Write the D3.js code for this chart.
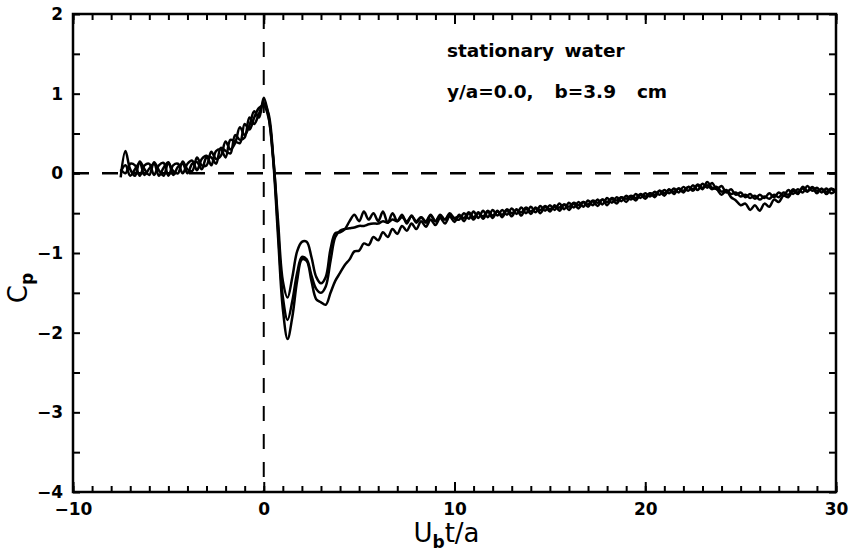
<!DOCTYPE html>
<html>
<head>
<meta charset="utf-8">
<script src="https://cdn.jsdelivr.net/npm/d3@7"></script>
<style>
  body { margin: 0; background: #fff; }
  text { font-family: "DejaVu Sans", "Liberation Sans", sans-serif; fill: #000; }
</style>
</head>
<body>
<div id="chart"></div>
<script>
// sampling of the three runs: t = tStart + i * tStep
var tStart = -7.5, tStep = 0.25;

var run1 = [-0.05, 0.28, 0.05, -0.03, 0.15, 0.05, -0.02, 0.14, 0.04, -0.03, 0.13, 0.03, 0.0, 0.15, 0.05, 0.03,
  0.2, 0.1, 0.1, 0.27, 0.18, 0.22, 0.4, 0.3, 0.38, 0.58, 0.48, 0.6, 0.78, 0.7, 0.95,
  0.72, 0.15, -0.8, -1.7, -2.08, -1.8, -1.35, -1.08, -1.1, -1.35, -1.58, -1.62, -1.65, -1.5, -1.35, -1.25,
  -1.15, -1.08, -0.98, -0.97, -0.88, -0.9, -0.8, -0.84, -0.74, -0.8, -0.7, -0.76, -0.66, -0.72, -0.63, -0.7,
  -0.6, -0.67, -0.58, -0.65, -0.56, -0.63, -0.54, -0.61,
  -0.52, -0.6, -0.5, -0.58, -0.49, -0.57, -0.48, -0.56, -0.47, -0.55, -0.46, -0.54, -0.45, -0.53, -0.44, -0.51, -0.43, -0.5, -0.42, -0.48,
  -0.4, -0.47, -0.39, -0.46, -0.38, -0.44, -0.36, -0.42, -0.35, -0.41, -0.33, -0.4, -0.32, -0.38, -0.3, -0.36, -0.29, -0.34, -0.27, -0.32,
  -0.25, -0.3, -0.22, -0.28, -0.2, -0.26, -0.19, -0.24, -0.17, -0.22, -0.15, -0.2, -0.11, -0.18, -0.2, -0.27, -0.22, -0.3, -0.34, -0.4,
  -0.38, -0.46, -0.4, -0.47, -0.38, -0.42, -0.33, -0.36, -0.28, -0.3, -0.22, -0.26, -0.17, -0.22, -0.18, -0.25, -0.19, -0.26, -0.2, -0.24];

var run2 = [0.02, 0.1, -0.03, 0.05, 0.13, -0.02, 0.06, 0.12, -0.03, 0.07, 0.14, -0.02, 0.08, 0.12, 0.0, 0.12,
  0.14, 0.05, 0.2, 0.2, 0.12, 0.32, 0.28, 0.25, 0.48, 0.42, 0.45, 0.7, 0.62, 0.75, 0.88,
  0.75, 0.2, -0.7, -1.55, -1.84, -1.6, -1.25, -1.05, -1.08, -1.28, -1.45, -1.5, -1.42, -1.1, -0.8, -0.72,
  -0.7, -0.69, -0.68, -0.66, -0.66, -0.64, -0.63, -0.63, -0.6, -0.62, -0.58, -0.6, -0.55, -0.6, -0.54, -0.6,
  -0.55, -0.62, -0.53, -0.6, -0.52, -0.58, -0.5, -0.57,
  -0.58, -0.5, -0.57, -0.48, -0.56, -0.47, -0.55, -0.46, -0.53, -0.46, -0.52, -0.44, -0.51, -0.43, -0.5, -0.42, -0.49, -0.41, -0.47, -0.4,
  -0.46, -0.38, -0.45, -0.37, -0.43, -0.36, -0.42, -0.34, -0.4, -0.33, -0.39, -0.31, -0.37, -0.3, -0.35, -0.28, -0.33, -0.26, -0.31, -0.25,
  -0.29, -0.23, -0.27, -0.21, -0.25, -0.19, -0.24, -0.17, -0.22, -0.15, -0.21, -0.13, -0.18, -0.12, -0.2, -0.16, -0.24, -0.2, -0.27, -0.24,
  -0.3, -0.26, -0.32, -0.27, -0.31, -0.25, -0.3, -0.24, -0.28, -0.21, -0.26, -0.2, -0.24, -0.16, -0.22, -0.18, -0.24, -0.19, -0.25, -0.21];

var run3 = [0.05, 0.0, 0.12, 0.1, -0.03, 0.1, 0.12, -0.02, 0.1, 0.13, -0.03, 0.1, 0.12, 0.0, 0.12, 0.16,
  0.04, 0.18, 0.22, 0.1, 0.28, 0.3, 0.2, 0.42, 0.4, 0.38, 0.62, 0.55, 0.7, 0.82, 0.85,
  0.7, 0.18, -0.6, -1.35, -1.56, -1.3, -0.98, -0.86, -0.86, -1.05, -1.3, -1.38, -1.3, -0.95, -0.75, -0.74,
  -0.7, -0.6, -0.52, -0.6, -0.48, -0.58, -0.5, -0.6, -0.48, -0.62, -0.5, -0.6, -0.52, -0.63, -0.53, -0.62,
  -0.55, -0.6, -0.52, -0.6, -0.54, -0.58, -0.52, -0.56,
  -0.54, -0.56, -0.49, -0.55, -0.5, -0.54, -0.47, -0.53, -0.48, -0.52, -0.45, -0.5, -0.46, -0.49, -0.43, -0.48, -0.44, -0.46, -0.41, -0.45,
  -0.42, -0.43, -0.39, -0.42, -0.37, -0.4, -0.36, -0.39, -0.34, -0.37, -0.33, -0.36, -0.31, -0.34, -0.3, -0.32, -0.28, -0.31, -0.26, -0.29,
  -0.25, -0.27, -0.22, -0.25, -0.21, -0.23, -0.19, -0.22, -0.17, -0.2, -0.14, -0.18, -0.15, -0.2, -0.17, -0.23, -0.21, -0.26, -0.24, -0.29,
  -0.27, -0.31, -0.28, -0.33, -0.29, -0.32, -0.27, -0.3, -0.24, -0.27, -0.2, -0.24, -0.19, -0.23, -0.17, -0.22, -0.2, -0.23, -0.19, -0.22];

var xTicks = [-10, 0, 10, 20, 30];
var yTicks = [-4, -3, -2, -1, 0, 1, 2];
var notes = ["stationary water", "y/a=0.0,  b=3.9  cm"];

function drawChart() {
    var width = 849, height = 553;
    var margin = { top: 14, right: 13, bottom: 61, left: 73 },
        inner_w = width - margin.left - margin.right,
        inner_h = height - margin.top - margin.bottom;

    var svg = d3.select("#chart").append("svg")
        .attr("width", width)
        .attr("height", height)
        .append("g")
        .attr("transform", `translate(${margin.left},${margin.top})`);

    var xScale = d3.scaleLinear().domain([-10, 30]).range([0, inner_w]);
    var yScale = d3.scaleLinear().domain([-4, 2]).range([inner_h, 0]);
    var minus = d => d < 0 ? "\u2212" + Math.abs(d) : "" + d;

    // minor ticks every 1 on x, every 0.5 on y, drawn inward on all four sides
    var xMinor = d3.range(-10, 30.01, 1);
    var yMinor = d3.range(-4, 2.01, 0.5);
    var tickStyle = g => {
        g.select(".domain").remove();
        g.selectAll("line").attr("stroke", "#000").attr("stroke-width", 2);
    };
    svg.append("g").attr("transform", `translate(0,${inner_h})`)
        .call(d3.axisTop(xScale).tickValues(xMinor).tickSize(6).tickFormat("")).call(tickStyle);
    svg.append("g").attr("transform", `translate(0,${inner_h})`)
        .call(d3.axisTop(xScale).tickValues(xTicks).tickSize(10).tickFormat("")).call(tickStyle);
    svg.append("g")
        .call(d3.axisBottom(xScale).tickValues(xMinor).tickSize(6).tickFormat("")).call(tickStyle);
    svg.append("g")
        .call(d3.axisBottom(xScale).tickValues(xTicks).tickSize(10).tickFormat("")).call(tickStyle);
    svg.append("g")
        .call(d3.axisRight(yScale).tickValues(yMinor).tickSize(7).tickFormat("")).call(tickStyle);
    svg.append("g").attr("transform", `translate(${inner_w},0)`)
        .call(d3.axisLeft(yScale).tickValues(yMinor).tickSize(7).tickFormat("")).call(tickStyle);

    // tick labels
    var xAxis = svg.append("g").attr("transform", `translate(0,${inner_h})`)
        .call(d3.axisBottom(xScale).tickValues(xTicks).tickSize(0).tickPadding(11).tickFormat(minus));
    xAxis.select(".domain").remove();
    xAxis.selectAll("text").style("font-size", "17px").style("font-weight", "bold");
    var yAxis = svg.append("g")
        .call(d3.axisLeft(yScale).tickValues(yTicks).tickSize(0).tickPadding(10).tickFormat(minus));
    yAxis.select(".domain").remove();
    yAxis.selectAll("text").style("font-size", "17px").style("font-weight", "bold");

    // reference lines at t=0 and Cp=0
    svg.append("line")
        .attr("x1", 0).attr("x2", inner_w)
        .attr("y1", yScale(0)).attr("y2", yScale(0))
        .attr("stroke", "#000").attr("stroke-width", 2.5)
        .attr("stroke-dasharray", "16,13");
    svg.append("line")
        .attr("x1", xScale(0)).attr("x2", xScale(0))
        .attr("y1", 0).attr("y2", inner_h)
        .attr("stroke", "#000").attr("stroke-width", 2)
        .attr("stroke-dasharray", "15,13");

    // the three runs
    var line = d3.line()
        .x((d, i) => xScale(tStart + i * tStep))
        .y(d => yScale(d))
        .curve(d3.curveCatmullRom);
    [run1, run2, run3].forEach(run => {
        svg.append("path")
            .datum(run)
            .attr("fill", "none")
            .attr("stroke", "#000")
            .attr("stroke-width", 2.5)
            .attr("stroke-linejoin", "round")
            .attr("d", line);
    });

    // frame
    svg.append("rect")
        .attr("width", inner_w).attr("height", inner_h)
        .attr("fill", "none").attr("stroke", "#000").attr("stroke-width", 2.5);

    // annotations
    svg.selectAll(".note")
        .data(notes)
        .enter()
        .append("text")
        .attr("class", "note")
        .attr("x", 447 - margin.left)
        .attr("y", (d, i) => 57 - margin.top + i * 41)
        .style("font-size", "18.5px")
        .style("font-weight", "bold")
        .style("word-spacing", "4px")
        .style("white-space", "pre")
        .text(d => d);

    // axis titles
    var xt = svg.append("text")
        .attr("x", inner_w / 2 - 8)
        .attr("y", inner_h + 50)
        .attr("text-anchor", "middle")
        .style("font-size", "26px");
    xt.append("tspan").text("U");
    xt.append("tspan").attr("dy", 6).style("font-size", "17px").style("font-weight", "bold").text("b");
    xt.append("tspan").attr("dy", -6).text("t/a");

    var yt = svg.append("text")
        .attr("transform", `translate(${27 - margin.left},${288 - margin.top}) rotate(-90)`)
        .attr("text-anchor", "middle")
        .style("font-size", "26px");
    yt.append("tspan").text("C");
    yt.append("tspan").attr("dy", 6).style("font-size", "17px").style("font-weight", "bold").text("p");
}
drawChart();
</script>
</body>
</html>
